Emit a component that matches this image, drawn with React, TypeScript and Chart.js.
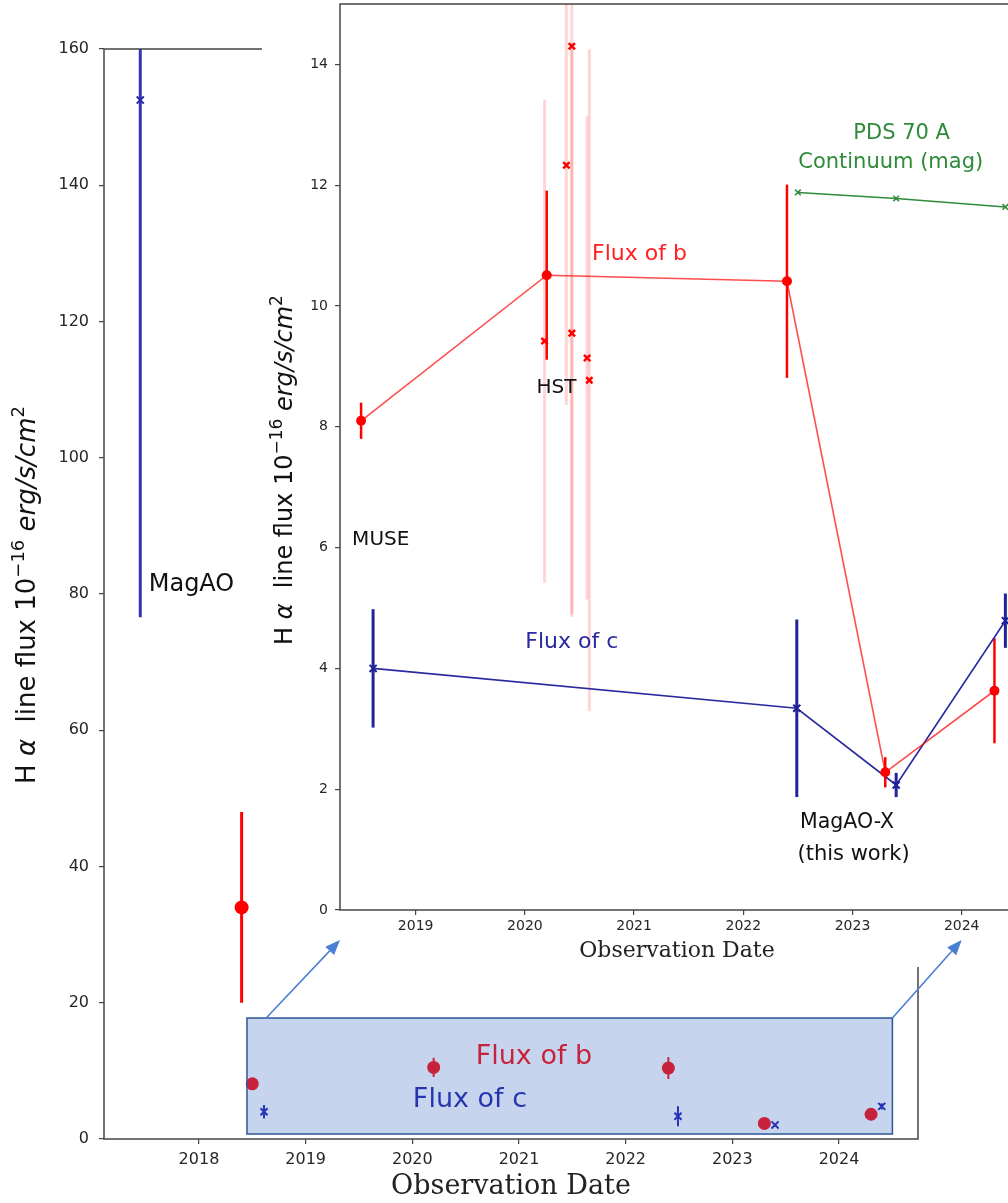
import React, { useEffect, useRef } from "react";
import { Chart, registerables } from "chart.js";
Chart.register(...registerables);

// ---------------- data ----------------
// Flux of planet b (MUSE, HST-epoch mean, MagAO-X epochs)
const bX = [2018.5, 2020.2, 2022.4, 2023.3, 2024.3];
const bY = [8.1, 10.51, 10.41, 2.28, 3.63];
const bErr = [0.3, 1.4, 1.6, 0.25, 0.87];
// Flux of planet c
const cX = [2018.61, 2022.49, 2023.4, 2024.4];
const cY = [4.0, 3.34, 2.07, 4.79];
const cErr = [0.98, 1.47, 0.2, 0.45];
// HST individual epochs of b
const hstX = [2020.18, 2020.38, 2020.43, 2020.43, 2020.57, 2020.59];
const hstY = [9.42, 12.33, 14.3, 9.55, 9.14, 8.77];
const hstErr = [4.0, 3.97, 9.4, 4.7, 4.0, 5.48];
// PDS 70 A continuum (mag)
const aX = [2022.5, 2023.4, 2024.4];
const aY = [11.88, 11.78, 11.64];
// Outer panel: MagAO points
const magaoCX = [2017.45];
const magaoCY = [152.5];
const magaoCErr = [75.9];
const magaoBX = [2018.4];
const magaoBY = [34.0];
const magaoBErr = [14.0];
// ticks
const outerXTicks = [2018, 2019, 2020, 2021, 2022, 2023, 2024];
const outerYTicks = [0, 20, 40, 60, 80, 100, 120, 140, 160];
const innerXTicks = [2019, 2020, 2021, 2022, 2023, 2024];
const innerYTicks = [0, 2, 4, 6, 8, 10, 12, 14];

const FAM = '"DejaVu Sans", sans-serif';
const SERIF = '"DejaVu Serif", serif';

type Seg = { t: string; italic?: boolean; sup?: boolean };
const yTitleSegs: Seg[] = [
  { t: "H " },
  { t: "α", italic: true },
  { t: "  line flux 10" },
  { t: "−16", sup: true },
  { t: " " },
  { t: "erg/s/cm", italic: true },
  { t: "2", sup: true },
];

function drawRichVertical(ctx: any, segs: Seg[], baseX: number, centerY: number, size: number, color: string) {
  const fontFor = (s: Seg) => `${s.italic ? "italic " : ""}${s.sup ? Math.round(size * 0.7) : size}px ${FAM}`;
  let total = 0;
  const widths = segs.map((s) => {
    ctx.font = fontFor(s);
    const w = ctx.measureText(s.t).width;
    total += w;
    return w;
  });
  ctx.save();
  ctx.translate(baseX, centerY);
  ctx.rotate(-Math.PI / 2);
  ctx.fillStyle = color;
  ctx.textBaseline = "alphabetic";
  ctx.textAlign = "left";
  let cx = -total / 2;
  segs.forEach((s, i) => {
    ctx.font = fontFor(s);
    ctx.fillText(s.t, cx, s.sup ? -size * 0.42 : 0);
    cx += widths[i];
  });
  ctx.restore();
}

const pts = (xs: number[], ys: number[]) => xs.map((x, i) => ({ x, y: ys[i] }));

const errPlugin = {
  id: "errbars",
  beforeDatasetsDraw(chart: any) {
    const { ctx, chartArea, scales } = chart;
    const x = scales.x, y = scales.y;
    ctx.save();
    ctx.beginPath();
    ctx.rect(chartArea.left, chartArea.top, chartArea.right - chartArea.left, chartArea.bottom - chartArea.top);
    ctx.clip();
    for (let d = chart.data.datasets.length - 1; d >= 0; d--) {
      const ds: any = chart.data.datasets[d];
      if (!ds.errors) continue;
      ctx.strokeStyle = ds.errColor;
      ctx.lineWidth = ds.errWidth;
      ds.data.forEach((p: any, i: number) => {
        const px = x.getPixelForValue(p.x);
        ctx.beginPath();
        ctx.moveTo(px, y.getPixelForValue(p.y - ds.errors[i]));
        ctx.lineTo(px, y.getPixelForValue(p.y + ds.errors[i]));
        ctx.stroke();
      });
    }
    ctx.restore();
  },
};

type TextItem = { text: string; x: number; y: number; size: number; color: string };
function drawTexts(chart: any, items: TextItem[]) {
  const { ctx, scales } = chart;
  ctx.save();
  ctx.textAlign = "center";
  ctx.textBaseline = "middle";
  items.forEach((t) => {
    ctx.font = `${t.size}px ${FAM}`;
    ctx.fillStyle = t.color;
    ctx.fillText(t.text, scales.x.getPixelForValue(t.x), scales.y.getPixelForValue(t.y));
  });
  ctx.restore();
}

const outerTexts: TextItem[] = [
  { text: "MagAO", x: 2017.93, y: 81.3, size: 24, color: "#111" },
  { text: "Flux of b", x: 2021.14, y: 12.0, size: 27, color: "#ff0000" },
  { text: "Flux of c", x: 2020.54, y: 5.7, size: 27, color: "#1a1aa8" },
];
const innerTexts: TextItem[] = [
  { text: "Flux of b", x: 2021.05, y: 10.86, size: 22, color: "#ff2020" },
  { text: "PDS 70 A", x: 2023.45, y: 12.86, size: 21, color: "#2e8b3a" },
  { text: "Continuum (mag)", x: 2023.35, y: 12.37, size: 21, color: "#2e8b3a" },
  { text: "HST", x: 2020.29, y: 8.64, size: 20, color: "#111" },
  { text: "MUSE", x: 2018.68, y: 6.13, size: 20, color: "#111" },
  { text: "Flux of c", x: 2020.43, y: 4.44, size: 22, color: "#2a2aa0" },
  { text: "MagAO-X", x: 2022.95, y: 1.44, size: 20.5, color: "#111" },
  { text: "(this work)", x: 2023.01, y: 0.91, size: 21, color: "#111" },
];

// zoom box in outer data coords
const boxX = [2018.45, 2024.5];
const boxY = [0.73, 17.76];

function spineRect(chart: any) {
  const { ctx, chartArea: a } = chart;
  ctx.save();
  ctx.strokeStyle = "#444";
  ctx.lineWidth = 1.5;
  ctx.strokeRect(a.left, a.top, a.right - a.left, a.bottom - a.top);
  ctx.restore();
}

const outerPlugin = {
  id: "outerDecor",
  afterDatasetsDraw(chart: any) {
    drawTexts(chart, outerTexts);
    const { ctx, scales } = chart;
    const x1 = scales.x.getPixelForValue(boxX[0]);
    const x2 = scales.x.getPixelForValue(boxX[1]);
    const y1 = scales.y.getPixelForValue(boxY[1]);
    const y2 = scales.y.getPixelForValue(boxY[0]);
    ctx.save();
    ctx.fillStyle = "rgba(68,114,196,0.3)";
    ctx.fillRect(x1, y1, x2 - x1, y2 - y1);
    ctx.strokeStyle = "#2f5597";
    ctx.lineWidth = 1.5;
    ctx.strokeRect(x1, y1, x2 - x1, y2 - y1);
    ctx.restore();
  },
  afterDraw(chart: any) {
    spineRect(chart);
    drawRichVertical(chart.ctx, yTitleSegs, 35, 595, 26, "#111");
  },
};

const innerPlugin = {
  id: "innerDecor",
  afterDatasetsDraw(chart: any) {
    drawTexts(chart, innerTexts);
  },
  afterDraw(chart: any) {
    spineRect(chart);
    drawRichVertical(chart.ctx, yTitleSegs, 30, 470, 24, "#111");
  },
};

function axis(min: number, max: number, tickVals: number[], size: number, tickFont: number, pad: number, isX: boolean, title?: any) {
  return {
    type: "linear",
    min,
    max,
    afterBuildTicks: (s: any) => {
      s.ticks = tickVals.map((v) => ({ value: v }));
    },
    afterFit: (s: any) => {
      if (isX) s.height = size;
      else s.width = size;
      s.paddingTop = 0;
      s.paddingBottom = 0;
      s.paddingLeft = 0;
      s.paddingRight = 0;
    },
    grid: { display: true, drawOnChartArea: false, drawTicks: true, tickLength: 5, color: "#444", lineWidth: 1.2 },
    border: { display: false },
    ticks: {
      font: { family: FAM, size: tickFont },
      color: "#262626",
      padding: pad,
      maxRotation: 0,
      autoSkip: false,
      callback: (v: any) => String(v),
    },
    title: title || { display: false },
  };
}

export default function App() {
  const outerRef = useRef<HTMLCanvasElement>(null);
  const innerRef = useRef<HTMLCanvasElement>(null);
  const arrowRef = useRef<HTMLCanvasElement>(null);

  useEffect(() => {
    Chart.defaults.font.family = FAM;
    const outer = new Chart(outerRef.current as any, {
      type: "scatter",
      data: {
        datasets: [
          {
            data: pts(bX, bY),
            pointStyle: "circle",
            pointRadius: 6.5,
            backgroundColor: "#ff0000",
            borderColor: "#ff0000",
            borderWidth: 0,
            errors: bErr,
            errColor: "#ff0000",
            errWidth: 2,
          },
          {
            data: pts(cX, cY),
            pointStyle: "crossRot",
            pointRadius: 5,
            borderColor: "#1a1ab0",
            backgroundColor: "#1a1ab0",
            borderWidth: 2,
            errors: cErr,
            errColor: "#1a1ab0",
            errWidth: 2,
          },
          {
            data: pts(magaoCX, magaoCY),
            pointStyle: "crossRot",
            pointRadius: 5,
            borderColor: "#2a2aa8",
            backgroundColor: "#2a2aa8",
            borderWidth: 2,
            errors: magaoCErr,
            errColor: "#3535b0",
            errWidth: 3,
          },
          {
            data: pts(magaoBX, magaoBY),
            pointStyle: "circle",
            pointRadius: 7,
            backgroundColor: "#ff0000",
            borderColor: "#ff0000",
            borderWidth: 0,
            errors: magaoBErr,
            errColor: "#ff0000",
            errWidth: 3,
          },
        ] as any,
      },
      options: {
        responsive: false,
        animation: false,
        devicePixelRatio: 1,
        events: [],
        layout: { autoPadding: false, padding: { left: 0, top: 49, right: 90, bottom: 0 } },
        plugins: { legend: { display: false }, tooltip: { enabled: false } },
        scales: {
          x: axis(2017.11, 2024.74, outerXTicks, 64, 16, 6, true, {
            display: true,
            text: "Observation Date",
            font: { family: SERIF, size: 27 },
            color: "#222",
            padding: { top: 0, bottom: 0 },
          }),
          y: axis(0, 160, outerYTicks, 104, 16, 10, false),
        } as any,
      },
      plugins: [errPlugin, outerPlugin],
    } as any);

    const inner = new Chart(innerRef.current as any, {
      type: "scatter",
      data: {
        datasets: [
          {
            data: pts(bX, bY),
            showLine: true,
            borderColor: "rgba(255,0,0,0.7)",
            borderWidth: 1.6,
            pointStyle: "circle",
            pointRadius: 5,
            pointBackgroundColor: "#ff0000",
            pointBorderColor: "#ff0000",
            pointBorderWidth: 0,
            errors: bErr,
            errColor: "#ff0000",
            errWidth: 2.5,
          },
          {
            data: pts(cX, cY),
            showLine: true,
            borderColor: "#2a2aa0",
            borderWidth: 1.6,
            pointStyle: "crossRot",
            pointRadius: 5,
            pointBorderColor: "#1f1f99",
            pointBackgroundColor: "#1f1f99",
            pointBorderWidth: 2,
            errors: cErr,
            errColor: "#22229a",
            errWidth: 3,
          },
          {
            data: pts(aX, aY),
            showLine: true,
            borderColor: "#2e8b3a",
            borderWidth: 1.5,
            pointStyle: "crossRot",
            pointRadius: 4,
            pointBorderColor: "#2e8b3a",
            pointBackgroundColor: "#2e8b3a",
            pointBorderWidth: 1.5,
          },
          {
            data: pts(hstX, hstY),
            showLine: false,
            pointStyle: "crossRot",
            pointRadius: 4.5,
            pointBorderColor: "#ff0000",
            pointBackgroundColor: "#ff0000",
            pointBorderWidth: 2.5,
            errors: hstErr,
            errColor: "rgba(255,0,0,0.16)",
            errWidth: 3,
          },
        ] as any,
      },
      options: {
        responsive: false,
        animation: false,
        devicePixelRatio: 1,
        events: [],
        layout: { autoPadding: false, padding: { left: 0, top: 4, right: 16, bottom: 0 } },
        plugins: { legend: { display: false }, tooltip: { enabled: false } },
        scales: {
          x: axis(2018.307, 2024.479, innerXTicks, 57, 14, 3, true, {
            display: true,
            text: "Observation Date",
            font: { family: SERIF, size: 22 },
            color: "#222",
            padding: { top: 0, bottom: 3 },
          }),
          y: axis(0, 15, innerYTicks, 78, 14, 7, false),
        } as any,
      },
      plugins: [errPlugin, innerPlugin],
    } as any);

    // arrows from zoom box to inset axes
    const actx = arrowRef.current!.getContext("2d")!;
    actx.clearRect(0, 0, 1008, 1203);
    const INSET_LEFT = 262;
    const drawArrow = (x1: number, y1: number, x2: number, y2: number) => {
      const ang = Math.atan2(y2 - y1, x2 - x1);
      const hl = 15, hw = 6;
      const bx = x2 - hl * Math.cos(ang), by = y2 - hl * Math.sin(ang);
      actx.strokeStyle = "#4a7fd4";
      actx.fillStyle = "#4a7fd4";
      actx.lineWidth = 1.6;
      actx.beginPath();
      actx.moveTo(x1, y1);
      actx.lineTo(bx, by);
      actx.stroke();
      actx.beginPath();
      actx.moveTo(x2, y2);
      actx.lineTo(bx + hw * Math.sin(ang), by - hw * Math.cos(ang));
      actx.lineTo(bx - hw * Math.sin(ang), by + hw * Math.cos(ang));
      actx.closePath();
      actx.fill();
    };
    const ox = outer.scales.x, oy = outer.scales.y;
    const ix = inner.scales.x;
    const endY = inner.chartArea.bottom + 30;
    drawArrow(ox.getPixelForValue(2018.63), oy.getPixelForValue(boxY[1]), INSET_LEFT + ix.getPixelForValue(2018.307), endY);
    drawArrow(ox.getPixelForValue(boxX[1]), oy.getPixelForValue(boxY[1]), INSET_LEFT + ix.getPixelForValue(2024.0), endY);

    return () => {
      outer.destroy();
      inner.destroy();
    };
  }, []);

  return (
    <div style={{ position: "fixed", left: 0, top: 0, width: 1008, height: 1203, overflow: "hidden", background: "#fff" }}>
      <canvas ref={outerRef} width={1008} height={1203} style={{ position: "absolute", left: 0, top: 0, width: 1008, height: 1203 }} />
      <canvas
        ref={innerRef}
        width={768}
        height={967}
        style={{ position: "absolute", left: 262, top: 0, width: 768, height: 967, background: "#fff" }}
      />
      <canvas
        ref={arrowRef}
        width={1008}
        height={1203}
        style={{ position: "absolute", left: 0, top: 0, width: 1008, height: 1203, pointerEvents: "none" }}
      />
    </div>
  );
}
